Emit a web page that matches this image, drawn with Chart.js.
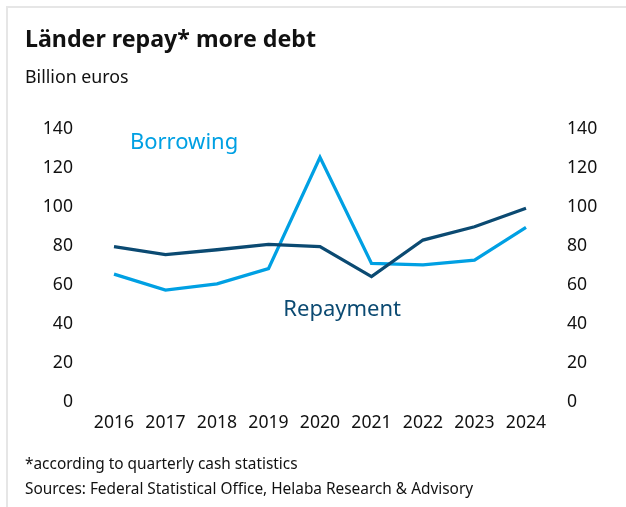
<!DOCTYPE html>
<html>
<head>
<meta charset="utf-8">
<script src="https://cdn.jsdelivr.net/npm/chart.js@4/dist/chart.umd.min.js"></script>
<style>
  html, body { margin: 0; padding: 0; background: #fff; }
  #wrap { position: relative; width: 626px; height: 507px; overflow: hidden; font-family: "Noto Sans", sans-serif; color: #111; }
  #frame { position: absolute; left: 6px; top: 6px; width: 640px; height: 520px; border-top: 2px solid #e6e6e6; border-left: 2px solid #e6e6e6; }
  #chart { position: absolute; left: 0; top: 0; }
  .txt { position: absolute; left: 25px; white-space: nowrap; line-height: 1; }
  #title { top: 27px; font-size: 23.2px; font-weight: 700; }
  #sub { top: 68px; font-size: 17.8px; }
  #note { top: 456px; font-size: 15.4px; }
  #src { top: 481px; font-size: 15.4px; }
</style>
</head>
<body>
<div id="wrap">
  <div id="frame"></div>
  <canvas id="chart" width="626" height="507"></canvas>
  <div class="txt" id="title">Länder repay* more debt</div>
  <div class="txt" id="sub">Billion euros</div>
  <div class="txt" id="note">*according to quarterly cash statistics</div>
  <div class="txt" id="src">Sources: Federal Statistical Office, Helaba Research &amp; Advisory</div>
</div>
<script>
// Years on the x axis
const years = ['2016', '2017', '2018', '2019', '2020', '2021', '2022', '2023', '2024'];
// New borrowing by the Länder, billion euros
const borrowing = [65.5, 57.3, 60.5, 68.3, 125.5, 71.0, 70.2, 72.7, 89.5];
// Debt repayment by the Länder, billion euros
const repayment = [79.6, 75.5, 78.0, 80.8, 79.6, 64.2, 83.0, 89.8, 99.3];
// Value axis ticks
const yTicks = [0, 20, 40, 60, 80, 100, 120, 140];

const LIGHT = '#00a0e3';
const DARK = '#0b4a72';
const tickFont = { family: 'Noto Sans', size: 17.6, lineHeight: 1.2 };

// Series names written inside the plot, placed in data coordinates
const seriesLabels = [
  { text: 'Borrowing', at: 1.36, value: 132.8, color: LIGHT },
  { text: 'Repayment', at: 4.43, value: 47.0, color: DARK }
];

const inlineLabels = {
  id: 'inlineLabels',
  afterDatasetsDraw(chart) {
    const { ctx, scales: { x, y } } = chart;
    ctx.save();
    ctx.font = '22px "Noto Sans"';
    ctx.textAlign = 'center';
    ctx.textBaseline = 'middle';
    seriesLabels.forEach(l => {
      const i = Math.floor(l.at);
      const f = l.at - i;
      const px = x.getPixelForValue(i) * (1 - f) + x.getPixelForValue(i + 1) * f;
      ctx.fillStyle = l.color;
      ctx.fillText(l.text, px, y.getPixelForValue(l.value));
    });
    ctx.restore();
  }
};

const yAxis = (position) => ({
  position,
  min: 0,
  max: 140,
  border: { display: false },
  grid: { display: false, drawTicks: false },
  afterBuildTicks(scale) { scale.ticks = yTicks.map(v => ({ value: v })); },
  afterFit(scale) { scale.width = 80; },
  ticks: { color: '#111', font: tickFont, padding: 41 }
});

new Chart(document.getElementById('chart'), {
  type: 'line',
  data: {
    labels: years,
    datasets: [
      { label: 'Repayment', data: repayment, borderColor: DARK, borderWidth: 3.3, pointRadius: 0, tension: 0, yAxisID: 'y' },
      { label: 'Borrowing', data: borrowing, borderColor: LIGHT, borderWidth: 3.3, pointRadius: 0, tension: 0, yAxisID: 'y' }
    ]
  },
  options: {
    responsive: false,
    animation: false,
    layout: { padding: { left: 34, right: 20, top: 129, bottom: 65.3 } },
    plugins: { legend: { display: false }, tooltip: { enabled: false } },
    scales: {
      x: {
        offset: false,
        border: { display: false },
        grid: { display: false, drawTicks: false },
        afterFit(scale) { scale.height = 40; },
        ticks: { color: '#111', font: tickFont, padding: 11, maxRotation: 0, autoSkip: false }
      },
      y: yAxis('left'),
      y2: yAxis('right')
    }
  },
  plugins: [inlineLabels]
});
</script>
</body>
</html>
